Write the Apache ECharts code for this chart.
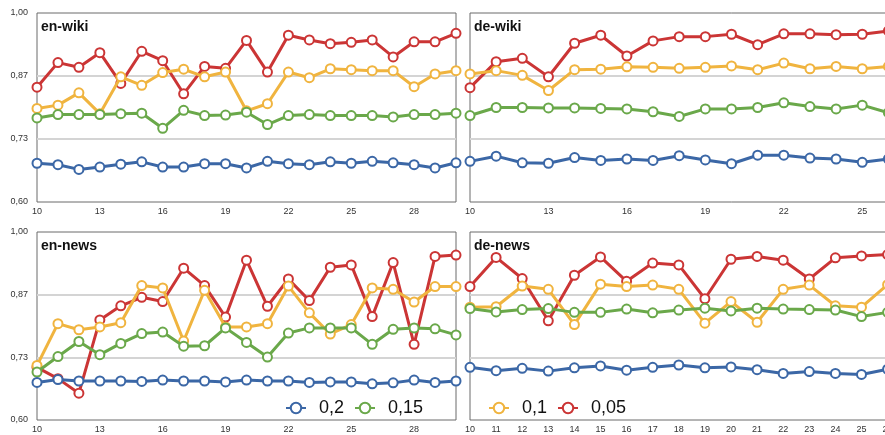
<!DOCTYPE html>
<html>
<head>
<meta charset="utf-8">
<script src="https://cdn.jsdelivr.net/npm/echarts@6/dist/echarts.min.js"></script>
<style>
html,body{margin:0;padding:0;overflow:hidden;background:#fff;}
#c{width:1000px;height:435px;}
</style>
</head>
<body>
<div id="c"></div>
<script>
const categories = ['10','11','12','13','14','15','16','17','18','19','20','21','22','23','24','25','26','27','28','29','30'];
const yTicks = [0.60, 0.7333, 0.8667, 1.00];
const panelTitles = ['en-wiki', 'de-wiki', 'en-news', 'de-news'];
const seriesNames = ['0,05', '0,1', '0,15', '0,2'];

// en-wiki
const enWiki005 = [0.843,0.895,0.885,0.916,0.851,0.919,0.899,0.829,0.887,0.883,0.942,0.875,0.953,0.943,0.935,0.938,0.943,0.907,0.939,0.939,0.957];
const enWiki010 = [0.798,0.805,0.831,0.787,0.865,0.847,0.874,0.881,0.865,0.875,0.793,0.808,0.875,0.863,0.882,0.880,0.878,0.878,0.844,0.871,0.878];
const enWiki015 = [0.778,0.785,0.785,0.785,0.787,0.788,0.756,0.794,0.783,0.784,0.790,0.764,0.783,0.785,0.783,0.783,0.783,0.780,0.785,0.785,0.788];
const enWiki020 = [0.682,0.679,0.669,0.674,0.680,0.685,0.674,0.674,0.681,0.681,0.672,0.686,0.681,0.679,0.685,0.682,0.686,0.683,0.679,0.672,0.683];
// de-wiki (visible part)
const deWiki005 = [0.842,0.897,0.904,0.865,0.936,0.953,0.909,0.941,0.950,0.950,0.955,0.933,0.956,0.956,0.954,0.955,0.962];
const deWiki010 = [0.871,0.878,0.868,0.836,0.880,0.881,0.886,0.885,0.883,0.885,0.888,0.880,0.894,0.882,0.887,0.882,0.887];
const deWiki015 = [0.783,0.800,0.800,0.799,0.799,0.798,0.797,0.791,0.781,0.797,0.797,0.800,0.810,0.802,0.797,0.805,0.789];
const deWiki020 = [0.686,0.697,0.683,0.682,0.694,0.688,0.691,0.688,0.698,0.689,0.681,0.699,0.699,0.693,0.691,0.684,0.691];
// en-news
const enNews005 = [0.712,0.688,0.657,0.813,0.843,0.861,0.852,0.923,0.886,0.819,0.940,0.842,0.900,0.854,0.925,0.930,0.820,0.935,0.761,0.948,0.951];
const enNews010 = [0.716,0.805,0.792,0.798,0.807,0.886,0.881,0.768,0.876,0.798,0.798,0.805,0.885,0.828,0.783,0.803,0.881,0.878,0.851,0.884,0.884];
const enNews015 = [0.702,0.735,0.767,0.739,0.763,0.784,0.787,0.757,0.758,0.796,0.765,0.734,0.785,0.796,0.796,0.796,0.761,0.793,0.796,0.794,0.781];
const enNews020 = [0.680,0.686,0.683,0.683,0.683,0.682,0.685,0.683,0.683,0.681,0.685,0.683,0.683,0.680,0.681,0.681,0.677,0.679,0.685,0.680,0.683];
// de-news (visible part)
const deNews005 = [0.884,0.946,0.901,0.811,0.908,0.947,0.895,0.934,0.930,0.858,0.942,0.948,0.940,0.900,0.945,0.949,0.952];
const deNews010 = [0.840,0.841,0.885,0.878,0.803,0.889,0.884,0.887,0.878,0.806,0.852,0.808,0.878,0.887,0.843,0.840,0.888];
const deNews015 = [0.837,0.830,0.835,0.837,0.829,0.829,0.836,0.828,0.834,0.838,0.832,0.838,0.836,0.835,0.834,0.820,0.829];
const deNews020 = [0.712,0.705,0.710,0.704,0.711,0.715,0.706,0.712,0.717,0.711,0.713,0.707,0.699,0.703,0.699,0.697,0.708];

const panelData = [
  [enWiki005, enWiki010, enWiki015, enWiki020],
  [deWiki005, deWiki010, deWiki015, deWiki020],
  [enNews005, enNews010, enNews015, enNews020],
  [deNews005, deNews010, deNews015, deNews020]
];
const colors = ['#cb3535', '#f0b43f', '#6aa84a', '#3b67a6'];

const FONT = 'Liberation Sans, Arial, Helvetica, sans-serif';
const grids = [
  {left: 37, top: 13, width: 419, height: 189},
  {left: 470, top: 13, width: 523, height: 189},
  {left: 37, top: 232, width: 419, height: 188},
  {left: 470, top: 232, width: 523, height: 188}
].map(g => Object.assign(g, {show: true, borderColor: '#6a6a6a', borderWidth: 1, backgroundColor: 'transparent', containLabel: false}));

const xAxes = grids.map((g, i) => ({
  type: 'category', gridIndex: i, data: categories, boundaryGap: false,
  axisLine: {show: false}, axisTick: {show: false},
  axisLabel: {interval: i === 3 ? 0 : 2, fontSize: 9, color: '#333', margin: 5, fontFamily: FONT},
  splitLine: {show: false}
}));
const yAxes = grids.map((g, i) => ({
  type: 'value', gridIndex: i, min: yTicks[0], max: yTicks[3], interval: (yTicks[3] - yTicks[0]) / 3,
  axisLine: {show: false}, axisTick: {show: false},
  axisLabel: {show: i % 2 === 0, fontSize: 9, color: '#333', margin: 9, fontFamily: FONT,
    formatter: v => v.toFixed(2).replace('.', ',')},
  splitLine: {show: true, lineStyle: {color: ['rgba(0,0,0,0)', '#d4d4d4', '#d4d4d4', 'rgba(0,0,0,0)'], width: 2}}
}));

const series = [];
panelData.forEach((arrs, p) => {
  arrs.forEach((arr, k) => {
    series.push({
      type: 'line', name: seriesNames[k], xAxisIndex: p, yAxisIndex: p,
      data: arr, symbol: 'emptyCircle', symbolSize: 9,
      lineStyle: {color: colors[k], width: 3},
      itemStyle: {color: colors[k], borderColor: colors[k], borderWidth: 3},
      emphasis: {disabled: true}, animation: false, z: 2 + k
    });
  });
});

const titles = panelTitles.map((t, i) => ({
  text: t, left: grids[i].left - 1, top: grids[i].top + 2,
  textStyle: {fontSize: 14, fontWeight: 'bold', color: '#111', fontFamily: FONT}
}));

const legendCommon = {
  orient: 'horizontal', itemWidth: 20, itemHeight: 13, itemGap: 10,
  textStyle: {fontSize: 18, color: '#111', fontFamily: FONT, padding: [0, 0, 0, 8]}
};
const legends = [
  Object.assign({}, legendCommon, {data: ['0,2', '0,15'], left: 280, top: 394}),
  Object.assign({}, legendCommon, {data: ['0,1', '0,05'], left: 483, top: 394})
];

const chart = echarts.init(document.getElementById('c'), null, {renderer: 'canvas'});
chart.setOption({
  animation: false,
  backgroundColor: '#fff',
  color: colors,
  title: titles,
  legend: legends,
  grid: grids,
  xAxis: xAxes,
  yAxis: yAxes,
  series: series
});
</script>
</body>
</html>
